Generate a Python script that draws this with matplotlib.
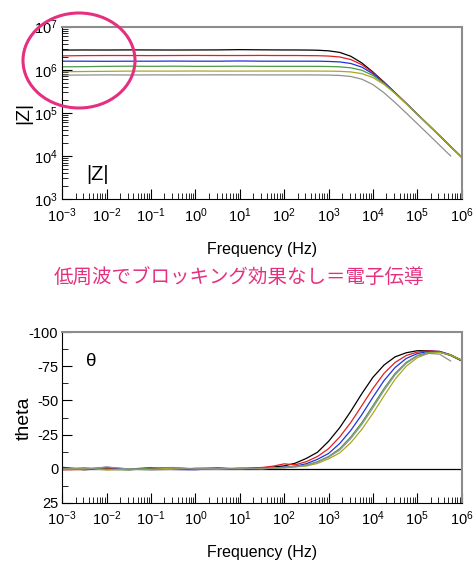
import numpy as np
import matplotlib
matplotlib.use("Agg")
import matplotlib.pyplot as plt
from matplotlib.patches import Ellipse
from matplotlib.ticker import LogLocator, FixedLocator, NullFormatter

plt.rcParams['font.family'] = ['Liberation Sans', 'Noto Sans CJK JP', 'DejaVu Sans']
plt.rcParams['mathtext.fontset'] = 'custom'
plt.rcParams['mathtext.rm'] = 'Liberation Sans'

# frequencies (Hz) shared by all series
freq = [1e-3, 3.16e-3, 1e-2, 3.16e-2, 1e-1, 3.16e-1, 1, 3.16, 10, 31.6, 56.2,
        100, 178, 316, 562, 1000, 1780, 3160, 5620, 1e4, 1.78e4, 3.16e4, 5.62e4,
        1e5, 1.78e5, 3.16e5, 5.62e5, 1e6]

series_colors = ['black', '#e02020', '#2030e0', '#4a9a4a', '#a8a820', '#909090']

# |Z| (ohm) per series
z_black = [2.86e6, 2.88e6, 2.87e6, 2.89e6, 2.88e6, 2.87e6, 2.88e6, 2.89e6, 2.93e6, 2.9e6, 2.89e6,
           2.88e6, 2.88e6, 2.87e6, 2.84e6, 2.75e6, 2.53e6, 2.06e6, 1.44e6, 8.87e5, 5.16e5, 2.94e5,
           1.66e5, 9.33e4, 5.25e4, 2.95e4, 1.66e4, 9.33e3]
z_red = [2.1e6, 2.13e6, 2.14e6, 2.14e6, 2.13e6, 2.14e6, 2.15e6, 2.14e6, 2.14e6, 2.15e6, 2.14e6,
         2.14e6, 2.14e6, 2.13e6, 2.12e6, 2.08e6, 1.98e6, 1.73e6, 1.31e6, 8.55e5, 5.1e5, 2.92e5,
         1.66e5, 9.33e4, 5.25e4, 2.95e4, 1.66e4, 9.33e3]
z_blue = [1.58e6, 1.58e6, 1.57e6, 1.58e6, 1.58e6, 1.59e6, 1.58e6, 1.58e6, 1.6e6, 1.58e6, 1.58e6,
          1.58e6, 1.58e6, 1.58e6, 1.58e6, 1.56e6, 1.52e6, 1.40e6, 1.15e6, 8.05e5, 4.98e5, 2.9e5,
          1.65e5, 9.31e4, 5.25e4, 2.95e4, 1.66e4, 9.33e3]
z_green = [1.17e6, 1.18e6, 1.2e6, 1.21e6, 1.2e6, 1.21e6, 1.2e6, 1.2e6, 1.21e6, 1.2e6, 1.2e6,
           1.2e6, 1.2e6, 1.2e6, 1.2e6, 1.19e6, 1.17e6, 1.11e6, 9.73e5, 7.38e5, 4.81e5, 2.86e5,
           1.64e5, 9.31e4, 5.25e4, 2.95e4, 1.66e4, 9.33e3]
z_olive = [9.0e5, 9.1e5, 9.2e5, 9.3e5, 9.3e5, 9.3e5, 9.35e5, 9.3e5, 9.3e5, 9.33e5, 9.33e5,
           9.33e5, 9.33e5, 9.33e5, 9.31e5, 9.29e5, 9.19e5, 8.9e5, 8.13e5, 6.6e5, 4.57e5, 2.81e5,
           1.63e5, 9.29e4, 5.24e4, 2.95e4, 1.66e4, 9.33e3]
z_gray = [7.5e5, 7.55e5, 7.6e5, 7.55e5, 7.6e5, 7.58e5, 7.6e5, 7.62e5, 7.6e5, 7.59e5, 7.59e5,
          7.59e5, 7.59e5, 7.59e5, 7.57e5, 7.52e5, 7.38e5, 6.98e5, 6.04e5, 4.52e5, 2.92e5, 1.73e5,
          9.91e4, 5.6e4, 3.16e4, 1.78e4, 1.0e4, np.nan]

# phase (deg) per series
t_black = [-0.5, 0.8, -0.3, 0.5, -0.2, 0.6, -0.1, -0.4, 0.2, -0.5, -1.2,
           -2, -4, -7.5, -12, -20, -30, -42, -55, -67, -76, -82, -85, -86.5, -86.5, -85.5, -83, -79]
t_red = [0.8, 0.6, -0.4, 0.7, 0.2, -0.5, 0.3, 0.5, -0.3, -0.8, -1.8,
         -3.5, -2.8, -5.1, -8.9, -14.6, -23.2, -33.8, -46.2, -58.8, -69.9, -77.9, -83, -85.5,
         -86.5, -86, -83.5, -79.5]
t_blue = [-1.0, 0.5, -1.0, 0.4, -0.8, 0.6, 0.8, -0.2, 0.3, -0.3, -0.6,
          -1.0, -1.8, -3.6, -6.8, -11.1, -18.4, -28, -39.6, -52.4, -64.6, -74.2, -80.8, -84.4,
          -86, -86, -83.5, -79.5]
t_green = [0.3, -0.6, 0.5, 1.0, -0.5, -0.8, 0.2, -0.3, 0.4, -0.2, -0.5,
           -0.8, -1.5, -2.6, -5.1, -8.9, -14.6, -23.2, -33.8, -46.2, -58.8, -69.9, -77.9, -83,
           -85.3, -85.5, -83.3, -79.5]
t_olive = [0.4, -0.3, 1.0, 0.3, 0.6, -0.4, 0.2, 0.4, -0.2, -0.1, -0.4,
           -0.6, -1.3, -1.9, -3.8, -7.2, -11.5, -19, -28.8, -40.6, -53.4, -65.6, -75.1, -81.4,
           -84.6, -85.3, -83.3, -79.5]
t_gray = [0.2, 0.4, -1.2, 0.2, 1.0, 0.5, -0.3, 0.1, -0.4, 0.3, -0.4,
          -0.7, -1.4, -2.4, -4.7, -8.4, -13.6, -22, -32.4, -44.6, -57.4, -68.8, -77.2, -82.6,
          -84.5, -84, -79, np.nan]

z_series = [z_black, z_red, z_blue, z_green, z_olive, z_gray]
t_series = [t_black, t_red, t_blue, t_green, t_olive, t_gray]
theta_ticks = [-100, -75, -50, -25, 0, 25]

pink = '#e5307f'

fig = plt.figure(figsize=(4.77, 5.64), dpi=100)
ax1 = fig.add_axes([0.1306, 0.6472, 0.8373, 0.3055])
ax2 = fig.add_axes([0.1306, 0.1087, 0.8373, 0.3021])


def style_axes(ax):
    ax.spines['left'].set_color('black')
    ax.spines['bottom'].set_color('black')
    for s in ('top', 'right'):
        ax.spines[s].set_color('#8c8c8c')
        ax.spines[s].set_linewidth(1.5)
    ax.tick_params(which='both', direction='in', top=False, right=False, labelsize=10.5)
    ax.tick_params(which='major', length=7, pad=5)
    ax.tick_params(axis='y', which='major', pad=3)
    ax.tick_params(which='minor', length=4)
    ax.set_xscale('log')
    ax.set_xlim(1e-3, 1e6)
    ax.xaxis.set_major_locator(LogLocator(base=10, numticks=20))
    ax.xaxis.set_minor_locator(LogLocator(base=10, subs=np.arange(2, 10), numticks=20))
    ax.xaxis.set_minor_formatter(NullFormatter())


# |Z| panel
style_axes(ax1)
for z, c in zip(z_series, series_colors):
    ax1.plot(freq, z, color=c, lw=0.9)
ax1.set_yscale('log')
ax1.set_ylim(1e3, 1e7)
ax1.yaxis.set_major_locator(LogLocator(base=10, numticks=10))
ax1.yaxis.set_minor_locator(LogLocator(base=10, subs=np.arange(2, 10), numticks=10))
ax1.yaxis.set_minor_formatter(NullFormatter())
ax1.text(0.06, 0.11, '|Z|', transform=ax1.transAxes, fontsize=14.5)

# phase panel
style_axes(ax2)
ax2.axhline(0, color='black', lw=0.9, zorder=1)
for t, c in zip(t_series, series_colors):
    ax2.plot(freq, t, color=c, lw=0.9, zorder=2)
ax2.set_ylim(25, -100)
ax2.yaxis.set_major_locator(FixedLocator(theta_ticks))
ax2.yaxis.set_minor_locator(FixedLocator([-87.5, -62.5, -37.5, -12.5, 12.5]))
ax2.set_yticklabels([str(v) for v in theta_ticks])
ax2.text(0.06, 0.8, 'θ', transform=ax2.transAxes, fontsize=13.5)

fig.text(262 / 477, 1 - 250 / 564, 'Frequency (Hz)', ha='center', va='center', fontsize=11.5)
fig.text(262 / 477, 1 - 553 / 564, 'Frequency (Hz)', ha='center', va='center', fontsize=11.5)
fig.text(24 / 477, 1 - 113 / 564, '|Z|', rotation=90, ha='center', va='center', fontsize=14)
fig.text(24 / 477, 1 - 418 / 564, 'theta', rotation=90, ha='center', va='center', fontsize=14)

fig.text(239 / 477, 1 - 278 / 564, '低周波でブロッキング効果なし＝電子伝導', color=pink,
         ha='center', va='center', fontsize=14,
         family=['Noto Sans CJK JP', 'DejaVu Sans'])

fig.add_artist(Ellipse((79 / 477, 1 - 60.5 / 564), 112 / 477, 95 / 564,
                       transform=fig.transFigure, fill=False, edgecolor=pink, lw=2.2))

fig.savefig('out.png', dpi=100)
